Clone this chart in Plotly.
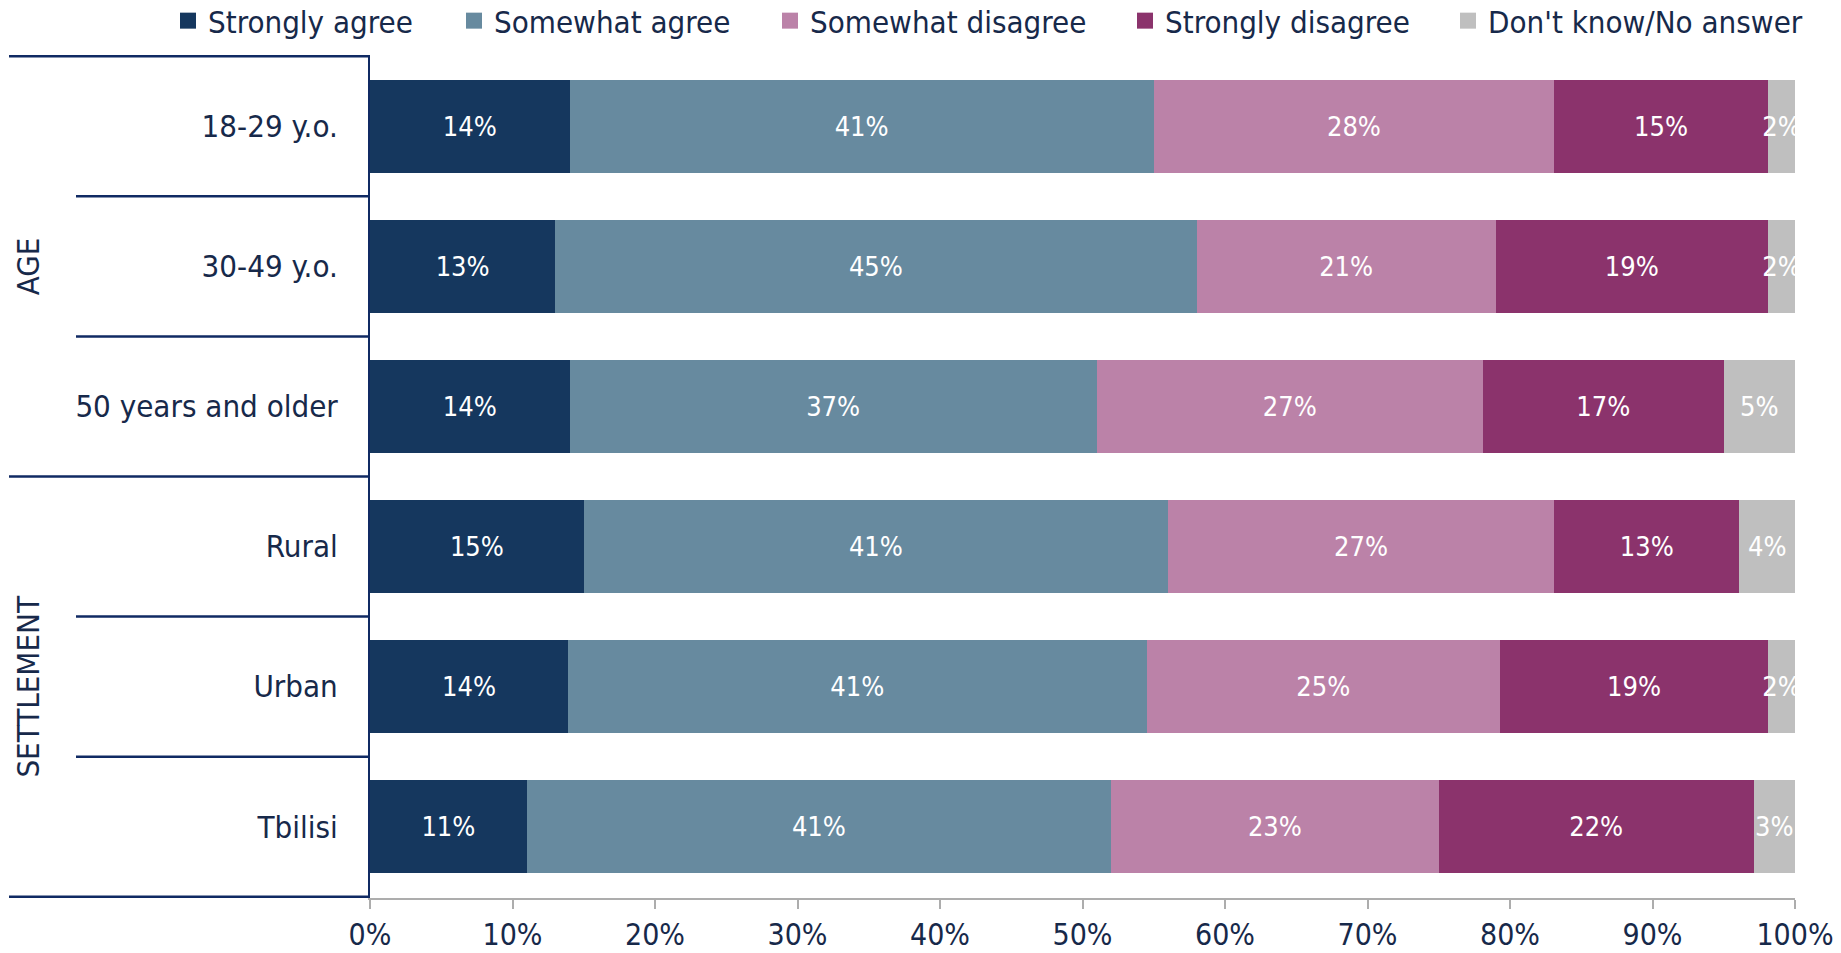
import plotly.graph_objects as go

categories = ["18-29 y.o.", "30-49 y.o.", "50 years and older", "Rural", "Urban", "Tbilisi"]
groups = ["AGE", "SETTLEMENT"]
group_rows = [[0, 1, 2], [3, 4, 5]]

series_names = ["Strongly agree", "Somewhat agree", "Somewhat disagree", "Strongly disagree", "Don't know/No answer"]
strongly_agree = [14.0, 13.0, 14.0, 15.0, 13.9, 11.0]
somewhat_agree = [41.0, 45.0, 37.0, 41.0, 40.6, 41.0]
somewhat_disagree = [28.1, 21.0, 27.1, 27.1, 24.8, 23.0]
strongly_disagree = [15.0, 19.1, 16.9, 13.0, 18.8, 22.1]
dont_know = [1.9, 1.9, 5.0, 3.9, 1.9, 2.9]
series_values = [strongly_agree, somewhat_agree, somewhat_disagree, strongly_disagree, dont_know]

colors = ["#15375E", "#678A9F", "#BB82A8", "#8B336C", "#BFBFBF"]
x_ticks = [0, 10, 20, 30, 40, 50, 60, 70, 80, 90, 100]

FONT = "DejaVu Sans Condensed, DejaVu Sans, sans-serif"
TEXT = "#17294A"
NAVY = "#102A63"

W, H = 1841, 953
PX0, PX1, PY0, PY1 = 370, 1795, 55, 898
L, R, T, B = PX0, W - PX1, PY0, H - PY1
PW = W - L - R

# legend marker centre positions (pixels) in the reference
legend_px = [188, 474, 790, 1145, 1468]
legend_py = 21

fig = go.Figure()
for i, (name, vals, col) in enumerate(zip(series_names, series_values, colors)):
    fig.add_trace(go.Bar(
        name=name, y=categories, x=vals, orientation="h",
        marker=dict(color=col, line=dict(width=0)),
        text=[f"{round(v)}%" for v in vals],
        textposition="inside", insidetextanchor="middle",
        constraintext="none", textangle=0,
        textfont=dict(color="white", size=27, family=FONT),
        hoverinfo="skip", showlegend=False,
    ))

# legend entries (square swatches), one legend per entry to reproduce spacing
layout_legends = {}
for i, (name, col, px) in enumerate(zip(series_names, colors, legend_px)):
    key = "legend" if i == 0 else f"legend{i+1}"
    fig.add_trace(go.Scatter(
        name=name, x=[None], y=[None], mode="markers",
        marker=dict(symbol="square", size=16, color=col, line=dict(width=0)),
        hoverinfo="skip", showlegend=True, legend=key,
    ))
    layout_legends[key] = dict(
        orientation="h", xref="container", yref="container",
        x=(px - 20) / W, xanchor="left",
        y=1 - legend_py / H, yanchor="middle",
        font=dict(family=FONT, size=31, color=TEXT),
        bgcolor="rgba(0,0,0,0)", borderwidth=0,
        itemclick=False, itemdoubleclick=False,
    )

fig.update_layout(
    width=W, height=H, autosize=False,
    barmode="stack", bargap=0.333,
    plot_bgcolor="white", paper_bgcolor="white",
    margin=dict(l=L, r=R, t=T, b=B, pad=0),
    font=dict(family=FONT, color=TEXT),
    showlegend=True,
    **layout_legends,
)

fig.update_xaxes(
    range=[0, 100], tickvals=x_ticks, ticktext=[f"{v}%" for v in x_ticks],
    showgrid=False, zeroline=False, automargin=False,
    showline=True, linecolor="#ADADAD", linewidth=2,
    ticks="outside", ticklen=9, tickwidth=2, tickcolor="#ADADAD",
    tickfont=dict(family=FONT, size=30, color=TEXT),
    fixedrange=True,
)
fig.update_yaxes(
    autorange="reversed", showgrid=False, zeroline=False, automargin=False,
    showline=True, linecolor=NAVY, linewidth=2,
    ticks="", ticklabelstandoff=24,
    tickfont=dict(family=FONT, size=31, color=TEXT),
    fixedrange=True,
)

# table lines on the left (paper x, data y)
x_outer = (9 - PX0) / PW
x_inner = (76 - PX0) / PW
n = len(categories)
boundaries = [-0.5 + k for k in range(n + 1)]
outer_bounds = {-0.5, n - 0.5}
for rows in group_rows:
    outer_bounds.add(rows[-1] + 0.5)
for b in boundaries:
    x0 = x_outer if b in outer_bounds else x_inner
    fig.add_shape(type="line", xref="paper", yref="y", x0=x0, x1=0, y0=b, y1=b,
                  line=dict(color=NAVY, width=2.5), layer="above")

for g, rows in zip(groups, group_rows):
    fig.add_annotation(
        text=g, xref="paper", yref="y", x=(28 - PX0) / PW,
        y=(rows[0] + rows[-1]) / 2, textangle=-90, showarrow=False,
        xanchor="center", yanchor="middle",
        font=dict(family=FONT, size=31, color=TEXT),
    )

# remove the browser's default 8px body margin so the figure fills the window exactly
fig.write_html("out.html", config={"displayModeBar": False},
               post_script="document.body.style.margin='0px';")
